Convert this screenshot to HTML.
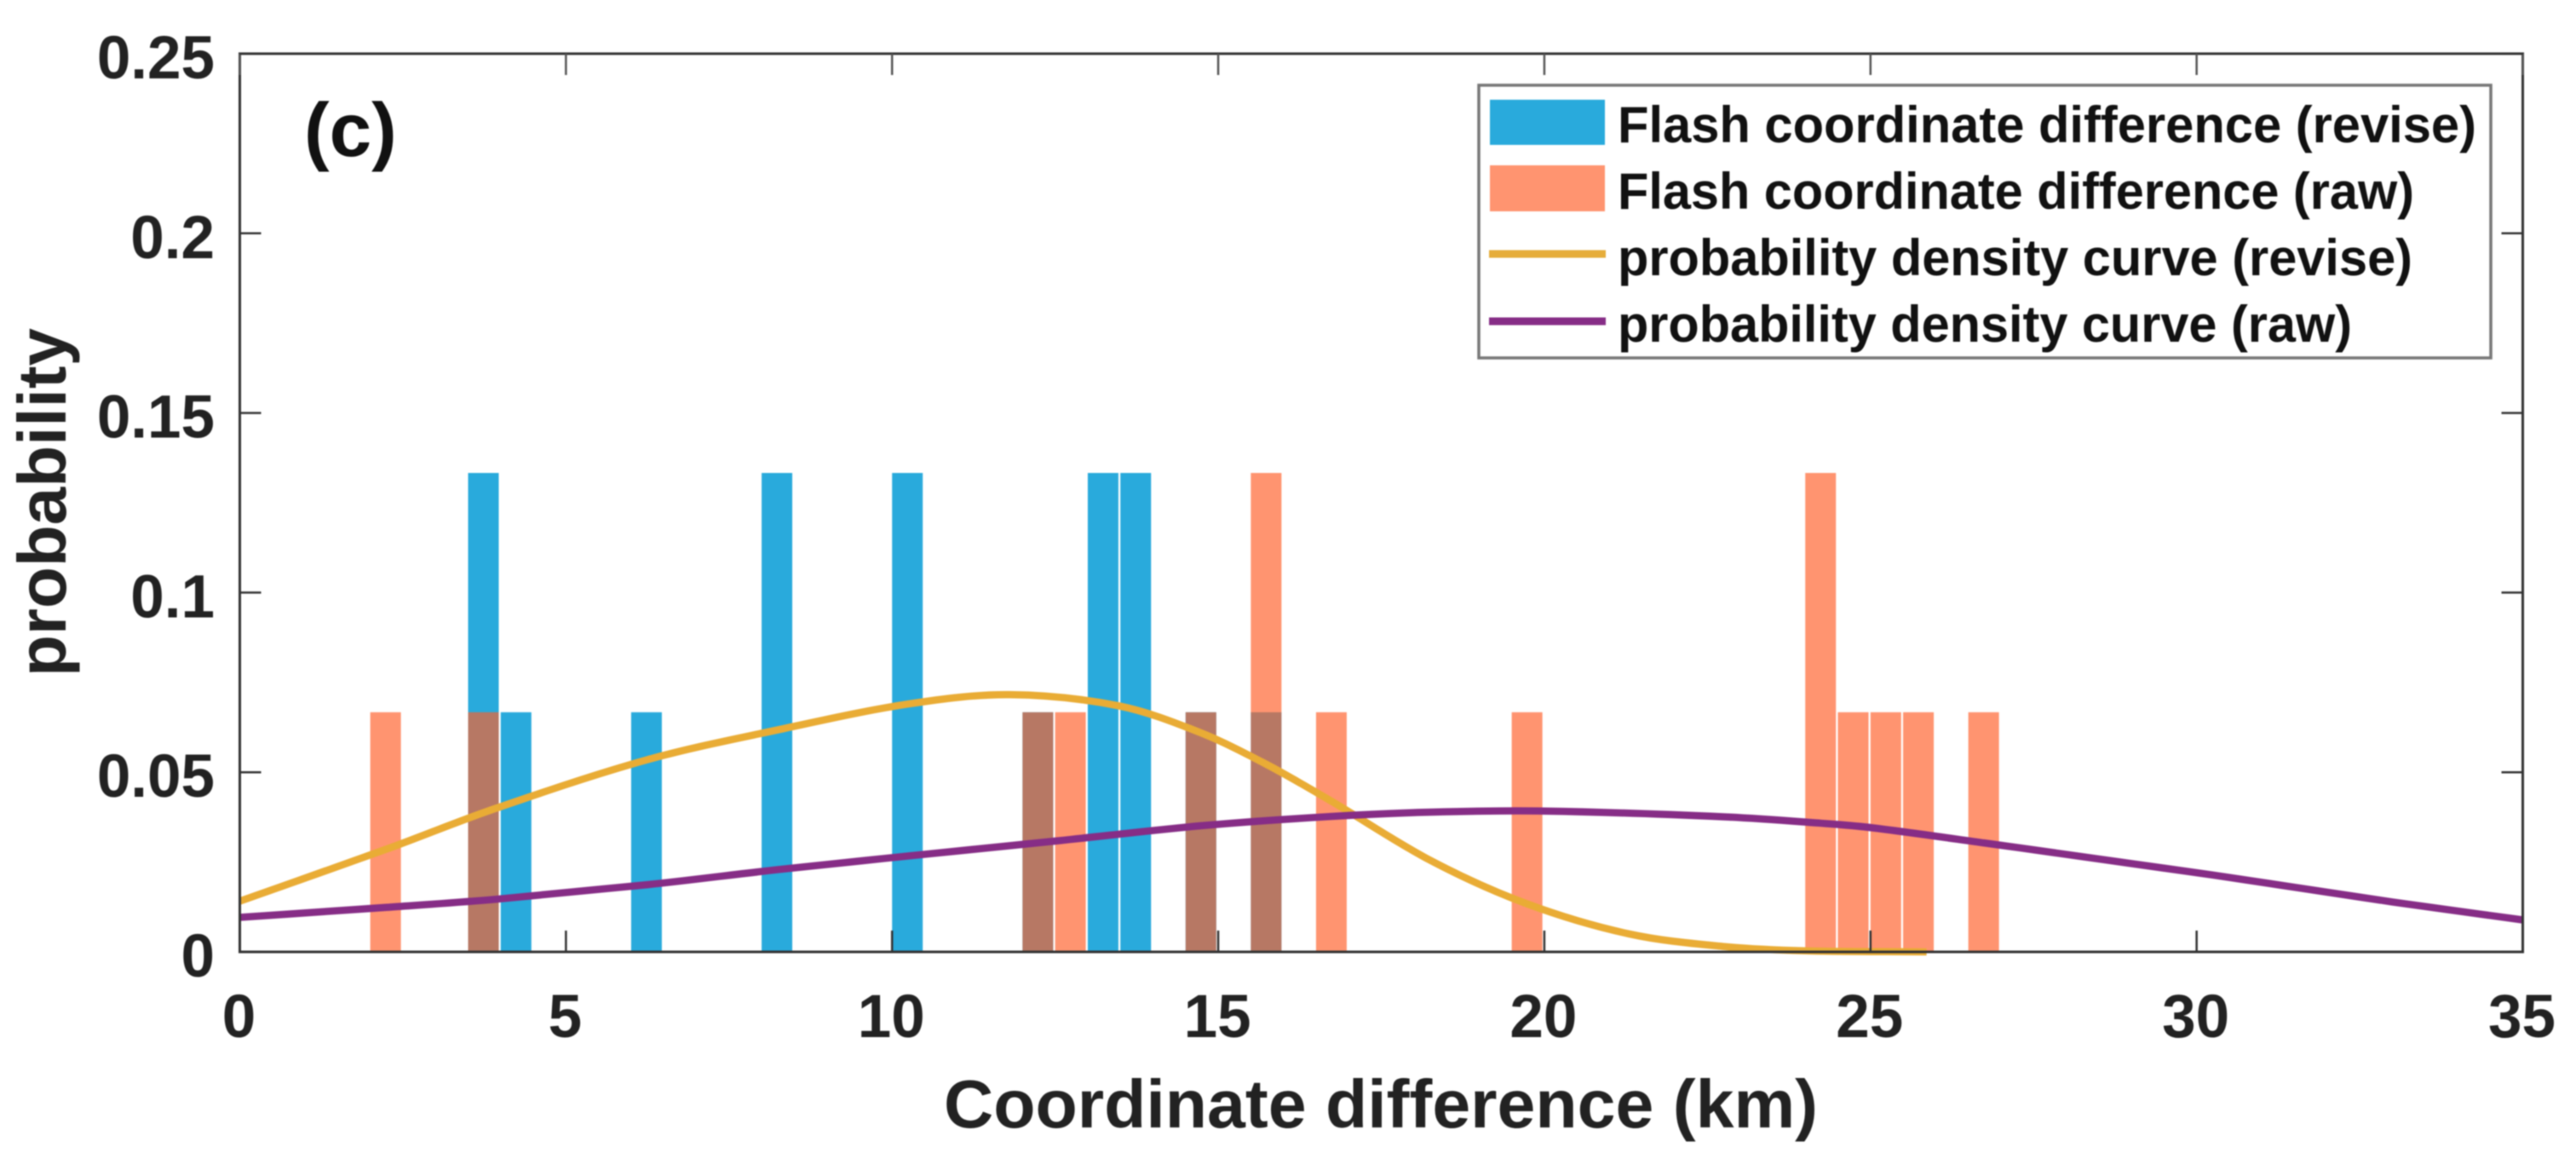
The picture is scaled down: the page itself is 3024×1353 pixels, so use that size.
<!DOCTYPE html>
<html>
<head>
<meta charset="utf-8">
<title>Coordinate difference histogram</title>
<style>
html,body{margin:0;padding:0;background:#fff;width:3024px;height:1353px;overflow:hidden}
svg{display:block;filter:blur(0.7px)}
text{font-family:"Liberation Sans",sans-serif;font-weight:bold;fill:#222}
</style>
</head>
<body>
<svg id="chart" xmlns="http://www.w3.org/2000/svg" width="3024" height="1353" viewBox="0 0 3024 1353">
  <rect x="0" y="0" width="3024" height="1353" fill="#fff"/>
  <g id="bars-revise"></g>
  <g id="bars-raw"></g>
  <g id="curves"></g>
  <g id="axes"></g>
  <text x="357" y="183" font-size="89" style="fill:#111">(c)</text>
  <text transform="translate(77,794) rotate(-90)" font-size="80" textLength="409" lengthAdjust="spacingAndGlyphs">probability</text>
  <text x="1108" y="1323" font-size="80" textLength="1026" lengthAdjust="spacingAndGlyphs">Coordinate difference (km)</text>
  <g>
    <rect x="1736" y="100" width="1188" height="320" fill="#fff" stroke="#777" stroke-width="3.5"/>
    <rect x="1749" y="117" width="135" height="53" fill="#29aadc"/>
    <rect x="1749" y="194" width="135" height="54" fill="#ff9470"/>
    <line x1="1748" y1="298" x2="1885" y2="298" stroke="#e6ad3a" stroke-width="9"/>
    <line x1="1748" y1="377" x2="1885" y2="377" stroke="#862d86" stroke-width="9"/>
    <text x="1899" y="167" font-size="60" style="fill:#111" textLength="1008" lengthAdjust="spacingAndGlyphs">Flash coordinate difference (revise)</text>
    <text x="1899" y="245" font-size="60" style="fill:#111" textLength="935" lengthAdjust="spacingAndGlyphs">Flash coordinate difference (raw)</text>
    <text x="1899" y="323" font-size="60" style="fill:#111" textLength="933" lengthAdjust="spacingAndGlyphs">probability density curve (revise)</text>
    <text x="1899" y="401" font-size="60" style="fill:#111" textLength="862" lengthAdjust="spacingAndGlyphs">probability density curve (raw)</text>
  </g>
</svg>
<script>
const xTickLabels = [0, 5, 10, 15, 20, 25, 30, 35];
const yTickLabels = ["0", "0.05", "0.1", "0.15", "0.2", "0.25"];
const binWidth = 0.47;

const reviseBins = [3.5, 4, 6, 8, 10, 12, 13, 13.5, 14.5, 15.5];
const reviseProb = [0.1333, 0.0667, 0.0667, 0.1333, 0.1333, 0.0667, 0.1333, 0.1333, 0.0667, 0.0667];

const rawBins = [2, 3.5, 12, 12.5, 14.5, 15.5, 16.5, 19.5, 24, 24.5, 25, 25.5, 26.5];
const rawProb = [0.0667, 0.0667, 0.0667, 0.0667, 0.0667, 0.1333, 0.0667, 0.0667, 0.1333, 0.0667, 0.0667, 0.0667, 0.0667];

const curveReviseX = [0, 2.25, 3.9, 6.25, 8.25, 10.25, 11.8, 13.47, 14.73, 15.74, 16.73, 18.26, 19.73, 21.3, 22.75, 24, 25.86];
const curveReviseY = [0.0141, 0.0286, 0.0398, 0.0535, 0.0618, 0.069, 0.0716, 0.0685, 0.061, 0.0522, 0.042, 0.0254, 0.0134, 0.005, 0.0015, 0.0003, 0];

const curveRawX = [0, 2.25, 3.9, 6.25, 8.25, 10.25, 12.48, 14.73, 16.73, 18.26, 20, 22.75, 24.25, 25, 26.75, 30.25, 33, 35];
const curveRawY = [0.0096, 0.0124, 0.0146, 0.0187, 0.0229, 0.0267, 0.0308, 0.0351, 0.0377, 0.0389, 0.0392, 0.0376, 0.0358, 0.0346, 0.0303, 0.0214, 0.0139, 0.0089];

const NS = 'http://www.w3.org/2000/svg';
const left = 281.5, right = 2961.5, top_ = 63, bottom = 1117;
function xScale(v) { return left + (v / 35) * (right - left); }
function yScale(v) { return bottom - (v / 0.25) * (bottom - top_); }

function make(tag, attrs, parent) {
  const el = document.createElementNS(NS, tag);
  for (const k in attrs) el.setAttribute(k, attrs[k]);
  parent.appendChild(el);
  return el;
}

const barsRevise = document.getElementById('bars-revise');
reviseBins.forEach(function (b, i) {
  const r = make('rect', {
    x: xScale(b), y: yScale(reviseProb[i]),
    width: xScale(b + binWidth) - xScale(b),
    height: yScale(0) - yScale(reviseProb[i]),
    fill: '#29aadc'
  }, barsRevise);
  
  
});

const barsRaw = document.getElementById('bars-raw');
rawBins.forEach(function (b, i) {
  const r = make('rect', {
    x: xScale(b), y: yScale(rawProb[i]),
    width: xScale(b + binWidth) - xScale(b),
    height: yScale(0) - yScale(rawProb[i]),
    fill: 'rgb(255,94,40)', 'fill-opacity': 0.667
  }, barsRaw);
  
  
});

function smoothPath(xs, ys) {
  const p = xs.map(function (x, i) { return [xScale(x), yScale(ys[i])]; });
  let d = 'M' + p[0][0] + ' ' + p[0][1];
  for (let i = 0; i < p.length - 1; i++) {
    const a = p[Math.max(i - 1, 0)], b = p[i], c = p[i + 1], e = p[Math.min(i + 2, p.length - 1)];
    const t1 = (c[0] - b[0]) / (c[0] - a[0]), t2 = (c[0] - b[0]) / (e[0] - b[0]);
    const c1x = b[0] + (c[0] - a[0]) * t1 / 3, c1y = b[1] + (c[1] - a[1]) * t1 / 3;
    const c2x = c[0] - (e[0] - b[0]) * t2 / 3, c2y = c[1] - (e[1] - b[1]) * t2 / 3;
    d += 'C' + c1x + ' ' + c1y + ' ' + c2x + ' ' + c2y + ' ' + c[0] + ' ' + c[1];
  }
  return d;
}

const curves = document.getElementById('curves');
const revCurve = make('path', { d: smoothPath(curveReviseX, curveReviseY), fill: 'none', stroke: '#e9ac35', 'stroke-width': 8.5 }, curves);


const rawCurve = make('path', { d: smoothPath(curveRawX, curveRawY), fill: 'none', stroke: '#862d86', 'stroke-width': 8.5 }, curves);



const axes = document.getElementById('axes');
const frame = make('rect', { x: left, y: top_, width: right - left, height: bottom - top_, fill: 'none', stroke: '#333', 'stroke-width': 3 }, axes);



xTickLabels.forEach(function (v) {
  const x = xScale(v);
  const t1 = make('line', { x1: x, x2: x, y1: bottom, y2: bottom - 25, stroke: '#333', 'stroke-width': 2.5 }, axes);
  
  
  const t2 = make('line', { x1: x, x2: x, y1: top_, y2: top_ + 25, stroke: '#555', 'stroke-width': 2.5 }, axes);
  
  
  const l = make('text', { x: x - 1, y: 1217, 'font-size': 71, 'text-anchor': 'middle' }, axes);
  
  
  l.textContent = v;
});

yTickLabels.forEach(function (s) {
  const y = yScale(parseFloat(s));
  const t1 = make('line', { x1: left, x2: left + 25, y1: y, y2: y, stroke: '#333', 'stroke-width': 2.5 }, axes);
  
  
  const t2 = make('line', { x1: right, x2: right - 25, y1: y, y2: y, stroke: '#333', 'stroke-width': 2.5 }, axes);
  
  
  const l = make('text', { x: 252, y: y + 29, 'font-size': 71, 'text-anchor': 'end' }, axes);
  
  
  l.textContent = s;
});
</script>
</body>
</html>
